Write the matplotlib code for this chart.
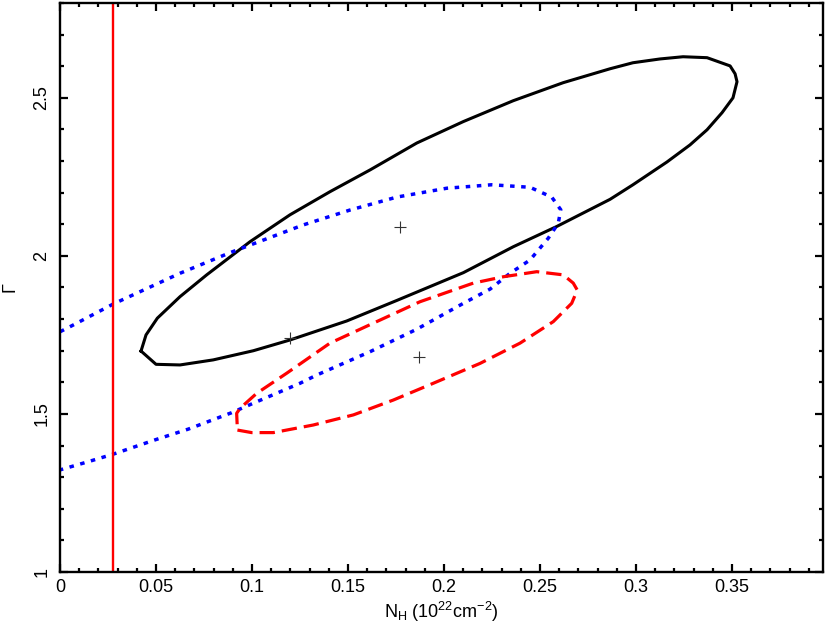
import numpy as np
import matplotlib
matplotlib.use("Agg")
import matplotlib.pyplot as plt
from matplotlib.ticker import MultipleLocator

plt.rcParams['font.family'] = ['Liberation Sans', 'DejaVu Sans']
plt.rcParams['mathtext.default'] = 'regular'

# ==========================================================
# CONFIDENCE CONTOURS  (N_H , Gamma)
# ==========================================================

# black solid contour
black_nh = [0.0422, 0.0500, 0.0625, 0.0798, 0.1007, 0.1198, 0.1493, 0.1754,
            0.2101, 0.2361, 0.2587, 0.2865, 0.2984, 0.3161, 0.3281, 0.3370,
            0.3448, 0.3505, 0.3526, 0.3516, 0.3490, 0.3370, 0.3245, 0.3125,
            0.2984, 0.2865, 0.2621, 0.2361, 0.2101, 0.1858, 0.1615, 0.1406,
            0.1198, 0.0990, 0.0764, 0.0625, 0.0507, 0.0448, 0.0422]
black_gamma = [1.699, 1.657, 1.655, 1.671, 1.700, 1.734, 1.794, 1.859,
               1.947, 2.029, 2.093, 2.179, 2.225, 2.297, 2.351, 2.399,
               2.453, 2.500, 2.551, 2.576, 2.601, 2.627, 2.630, 2.623,
               2.611, 2.592, 2.548, 2.491, 2.425, 2.357, 2.272, 2.203,
               2.130, 2.045, 1.940, 1.871, 1.803, 1.750, 1.699]

# blue dotted contour (runs off the left edge)
blue_nh = [0.0, 0.0052, 0.0278, 0.0625, 0.0885, 0.1267, 0.1510, 0.1754,
           0.2014, 0.2248, 0.2448, 0.2561, 0.2608, 0.2595, 0.2543, 0.2448,
           0.2344, 0.2240, 0.2101, 0.1858, 0.1615, 0.1337, 0.1250, 0.1007,
           0.0894, 0.0668, 0.0495, 0.0278, 0.0147, 0.0]
blue_gamma = [1.760, 1.776, 1.848, 1.945, 2.010, 2.098, 2.145, 2.186,
              2.214, 2.225, 2.217, 2.186, 2.146, 2.103, 2.056, 1.987,
              1.945, 1.895, 1.850, 1.768, 1.697, 1.623, 1.597, 1.534,
              1.504, 1.452, 1.418, 1.373, 1.349, 1.323]

# red dashed contour
red_nh = [0.0924, 0.0998, 0.1111, 0.1319, 0.1528, 0.1736, 0.1944, 0.2188,
          0.2396, 0.2569, 0.2665, 0.2694, 0.2673, 0.2621, 0.2483, 0.2309,
          0.2153, 0.1875, 0.1649, 0.1406, 0.1181, 0.1024, 0.0938, 0.0920,
          0.0924]
red_gamma = [1.449, 1.441, 1.441, 1.465, 1.497, 1.544, 1.597, 1.660,
             1.724, 1.792, 1.850, 1.892, 1.914, 1.940, 1.950, 1.934,
             1.914, 1.855, 1.792, 1.724, 1.629, 1.565, 1.518, 1.502,
             1.449]

# best fit positions
best_nh = [0.177, 0.120, 0.187]
best_gamma = [2.092, 1.740, 1.679]

# vertical line (Galactic N_H)
nh_gal = 0.0278

# ==========================================================
# PLOT
# ==========================================================

fig = plt.figure(figsize=(8.3, 6.25), dpi=100)
ax = fig.add_axes([0.0723, 0.0848, 0.9193, 0.9104])

ax.plot(black_nh, black_gamma, color='black', lw=2.2)
ax.plot(blue_nh, blue_gamma, color='#0000ff', lw=2.5,
        dashes=(1.3, 1.9), dash_capstyle='butt')
ax.plot(red_nh, red_gamma, color='#ff0000', lw=2.3,
        dashes=(4.8, 2.2))
ax.axvline(nh_gal, color='#ff0000', lw=1.7)
ax.plot(best_nh, best_gamma, '+', color='#333333', ms=8, mew=0.8)

ax.set_xlim(0, 0.3974)
ax.set_ylim(1, 2.80)

ax.xaxis.set_major_locator(MultipleLocator(0.05))
ax.xaxis.set_minor_locator(MultipleLocator(0.01))
ax.yaxis.set_major_locator(MultipleLocator(0.5))
ax.yaxis.set_minor_locator(MultipleLocator(0.1))

ax.set_xticks([0, 0.05, 0.1, 0.15, 0.2, 0.25, 0.3, 0.35])
ax.set_xticklabels(["0", "0.05", "0.1", "0.15", "0.2", "0.25", "0.3", "0.35"])
ax.set_yticks([1, 1.5, 2, 2.5])
ax.set_yticklabels(["1", "1.5", "2", "2.5"], rotation=90, va='center')

ax.tick_params(which='both', direction='in', top=True, right=True,
               width=1.6, labelsize=13)
ax.tick_params(which='major', length=6, pad=5)
ax.tick_params(which='minor', length=3)
ax.tick_params(axis='y', pad=7)

for s in ax.spines.values():
    s.set_linewidth(1.7)

ax.set_xlabel("N$_{H}$ (10$^{22}$cm$^{\u22122}$)", fontsize=13, labelpad=3)
ax.set_ylabel("\u0393", fontsize=13)
ax.yaxis.set_label_coords(-0.055, 0.5)

plt.savefig("out.png", dpi=100)
